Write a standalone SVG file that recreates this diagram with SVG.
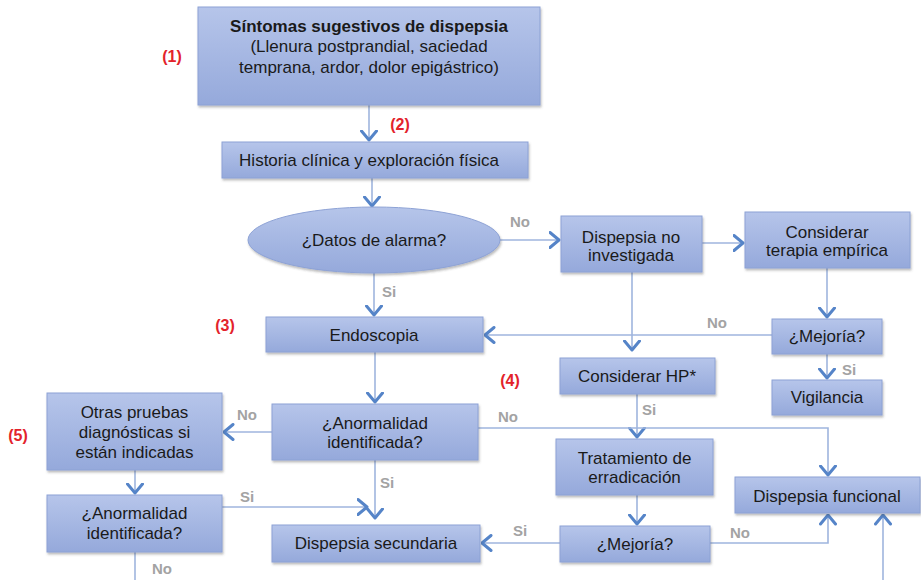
<svg xmlns="http://www.w3.org/2000/svg" width="921" height="580" viewBox="0 0 921 580">
<defs>
<linearGradient id="g" x1="0" y1="0" x2="0" y2="1">
<stop offset="0" stop-color="#b6c5ea"/>
<stop offset="1" stop-color="#95a9db"/>
</linearGradient>
<filter id="sh" x="-10%" y="-10%" width="120%" height="130%">
<feDropShadow dx="1" dy="2" stdDeviation="1.2" flood-color="#404040" flood-opacity="0.35"/>
</filter>
<marker id="ah" viewBox="0 0 12 18" refX="10.5" refY="9" markerWidth="12" markerHeight="18" markerUnits="userSpaceOnUse" orient="auto">
<path d="M1.5,1.5 L10.5,9 L1.5,16.5" fill="none" stroke="#5584c8" stroke-width="3" stroke-linecap="round" stroke-linejoin="round"/>
</marker>
</defs>
<style>
.box{fill:url(#g);stroke:#8da2d5;stroke-width:1;filter:url(#sh)}
.t{font-family:"Liberation Sans",Arial,sans-serif;font-size:17px;fill:#1a1a1a;text-anchor:middle}
.b{font-weight:bold}
.c{fill:none;stroke:#9fb5de;stroke-width:1.6;marker-end:url(#ah)}
.lbl{font-family:"Liberation Sans",Arial,sans-serif;font-size:15px;font-weight:bold;fill:#a3a3a3}
.red{font-family:"Liberation Sans",Arial,sans-serif;font-size:16px;font-weight:bold;fill:#e3232b;text-anchor:middle}
</style>
<rect width="921" height="580" fill="#ffffff"/>

<g id="connectors">
<path class="c" d="M369,105 V140"/>
<path class="c" d="M372,178 V206"/>
<path class="c" d="M500,240 H559"/>
<path class="c" d="M374,273 V315"/>
<path class="c" d="M702,243 H743"/>
<path class="c" d="M827,268 V317"/>
<path class="c" d="M772,335 H485"/>
<path class="c" d="M632,272 V350"/>
<path class="c" d="M827,354 V378"/>
<path class="c" d="M375,352 V402"/>
<path class="c" d="M272,432 H224"/>
<path class="c" d="M375,460 V518"/>
<path class="c" d="M135,470 V493"/>
<path class="c" d="M222,507 H367"/>
<path fill="none" stroke="#9fb5de" stroke-width="1.6" d="M135,552 V580"/>
<path class="c" d="M637,394 V437"/>
<path class="c" d="M478,428 H828 V475"/>
<path class="c" d="M637,495 V524"/>
<path class="c" d="M560,543 H482"/>
<path class="c" d="M710,543 H828 V515"/>
<path class="c" d="M883,580 V515"/>
<text class="lbl" x="510" y="227">No</text>
<text class="lbl" x="707" y="328">No</text>
<text class="lbl" x="842" y="375">Si</text>
<text class="lbl" x="382" y="297">Si</text>
<text class="lbl" x="237" y="420">No</text>
<text class="lbl" x="380" y="488">Si</text>
<text class="lbl" x="240" y="502">Si</text>
<text class="lbl" x="152" y="574">No</text>
<text class="lbl" x="642" y="415">Si</text>
<text class="lbl" x="498" y="422">No</text>
<text class="lbl" x="513" y="536">Si</text>
<text class="lbl" x="730" y="538">No</text>
</g>

<g id="n1">
<rect class="box" x="198" y="7" width="342" height="98"/>
<text class="t b" x="369" y="32">Síntomas sugestivos de dispepsia</text>
<text class="t" x="369" y="52">(Llenura postprandial, saciedad</text>
<text class="t" x="369" y="73">temprana, ardor, dolor epigástrico)</text>
</g>
<g id="n2">
<rect class="box" x="222" y="142" width="306" height="36"/>
<text class="t" x="369" y="166">Historia clínica y exploración física</text>
</g>
<g id="n3">
<ellipse class="box" cx="374" cy="240" rx="126" ry="33"/>
<text class="t" x="374" y="246">¿Datos de alarma?</text>
</g>
<g id="n4">
<rect class="box" x="561" y="216" width="141" height="56"/>
<text class="t" x="631" y="243">Dispepsia no</text>
<text class="t" x="631" y="261">investigada</text>
</g>
<g id="n5">
<rect class="box" x="745" y="212" width="165" height="56"/>
<text class="t" x="827" y="238">Considerar</text>
<text class="t" x="827" y="256">terapia empírica</text>
</g>
<g id="n6">
<rect class="box" x="772" y="319" width="110" height="35"/>
<text class="t" x="827" y="342">¿Mejoría?</text>
</g>
<g id="n7">
<rect class="box" x="266" y="317" width="217" height="35"/>
<text class="t" x="374" y="341">Endoscopia</text>
</g>
<g id="n8">
<rect class="box" x="560" y="358" width="155" height="36"/>
<text class="t" x="637" y="382">Considerar HP*</text>
</g>
<g id="n9">
<rect class="box" x="772" y="380" width="110" height="35"/>
<text class="t" x="827" y="403">Vigilancia</text>
</g>
<g id="n10">
<rect class="box" x="47" y="393" width="175" height="77"/>
<text class="t" x="134.5" y="418">Otras pruebas</text>
<text class="t" x="134.5" y="438">diagnósticas si</text>
<text class="t" x="134.5" y="458">están indicadas</text>
</g>
<g id="n11">
<rect class="box" x="272" y="404" width="206" height="56"/>
<text class="t" x="375" y="429">¿Anormalidad</text>
<text class="t" x="375" y="448">identificada?</text>
</g>
<g id="n12">
<rect class="box" x="556" y="439" width="157" height="56"/>
<text class="t" x="634.5" y="464">Tratamiento de</text>
<text class="t" x="634.5" y="483">erradicación</text>
</g>
<g id="n13">
<rect class="box" x="735" y="477" width="185" height="36"/>
<text class="t" x="827" y="502">Dispepsia funcional</text>
</g>
<g id="n14">
<rect class="box" x="47" y="495" width="175" height="57"/>
<text class="t" x="134.5" y="519">¿Anormalidad</text>
<text class="t" x="134.5" y="539">identificada?</text>
</g>
<g id="n15">
<rect class="box" x="272" y="525" width="208" height="37"/>
<text class="t" x="376" y="549">Dispepsia secundaria</text>
</g>
<g id="n16">
<rect class="box" x="560" y="526" width="150" height="36"/>
<text class="t" x="635" y="550">¿Mejoría?</text>
</g>

<g id="markers">
<text class="red" x="172" y="62">(1)</text>
<text class="red" x="400" y="130">(2)</text>
<text class="red" x="225" y="331">(3)</text>
<text class="red" x="510" y="386">(4)</text>
<text class="red" x="18" y="441">(5)</text>
</g>
</svg>
